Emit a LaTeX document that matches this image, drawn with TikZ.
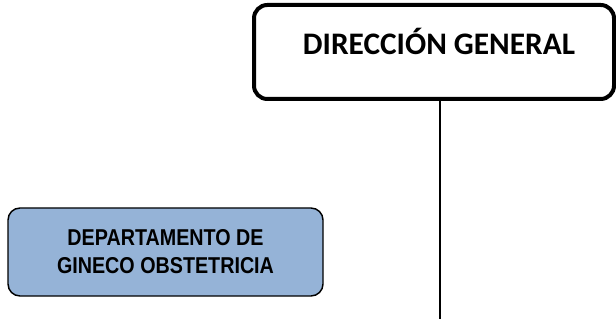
\documentclass[tikz,border=0pt]{standalone}
\usepackage{fontspec}
\usepackage{tikz}
\usepackage{xcolor}
\usetikzlibrary{positioning,calc}
\newfontfamily\carlitofont{Carlito}
\newfontfamily\narrowsans{Liberation Sans}[FakeStretch=0.86]
\definecolor{ink}{HTML}{000000}
\definecolor{deptblue}{HTML}{95B3D7}
\tikzset{
  dircard/.style={draw=ink,fill=white,line width=3pt,rounded corners=10pt,
                  minimum width=270pt,minimum height=70.5pt,inner sep=0pt,
                  text height=15pt,text depth=10.5pt,
                  font=\carlitofont\bfseries\fontsize{23.5}{28}\selectfont},
  deptcard/.style={draw=ink,fill=deptblue,line width=1.1pt,rounded corners=9pt,
                   minimum width=236.25pt,minimum height=66pt,inner sep=0pt,
                   align=center,
                   font=\narrowsans\bfseries\fontsize{17.2}{21}\selectfont},
  linkline/.style={draw=ink,line width=1.1pt}
}
\begin{document}
\begin{tikzpicture}[x=0.75pt,y=0.75pt]
    \path[use as bounding box] (0,0) rectangle (616,321);
    \node[dircard] (direccion) at (434,269) {\hspace*{7.5pt}DIRECCIÓN GENERAL};
    \node[deptcard] (gineco) at (165.5,69)
      {DEPARTAMENTO DE\\GINECO OBSTETRICIA};
    \coordinate (lineend) at (440,2);
    \draw[linkline] (direccion.south -| lineend) -- (lineend);
  \end{tikzpicture}
\end{document}
